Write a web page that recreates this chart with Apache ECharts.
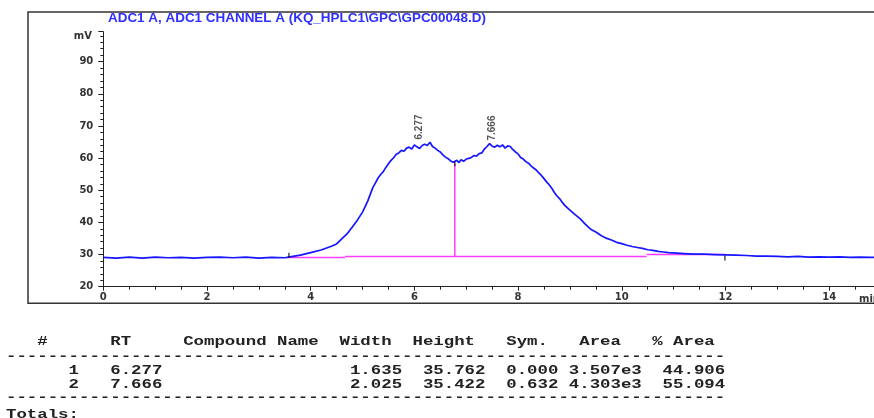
<!DOCTYPE html>
<html>
<head>
<meta charset="utf-8">
<script src="https://cdn.jsdelivr.net/npm/echarts@6/dist/echarts.min.js"></script>
<style>
html,body{margin:0;padding:0;background:#fff;}
#chart{width:874px;height:418px;}
</style>
</head>
<body>
<div id="chart"></div>
<script>
// detector trace, [min, mV]
const trace = [
  [0,29.1],[0.25,28.9],[0.5,29.2],[0.75,28.9],[1,29.2],[1.25,29.0],[1.5,29.1],[1.75,28.9],
  [2,29.1],[2.25,29.2],[2.5,29.0],[2.75,29.2],[3,28.9],[3.25,29.1],[3.5,29.0],[3.6,29.3],
  [3.8,29.8],[4,30.6],[4.2,31.4],[4.4,32.6],[4.5,33.3],[4.6,34.9],[4.7,36.4],[4.8,38.5],
  [4.9,40.7],[5,43.2],[5.1,46.6],[5.2,50.9],[5.25,52.3],[5.3,53.8],[5.35,54.9],[5.4,55.8],
  [5.45,57.1],[5.5,58.2],[5.55,59.3],[5.6,60.1],[5.65,61.2],[5.7,61.6],[5.75,62.4],[5.8,62.1],
  [5.85,63.1],[5.9,63.4],[5.95,62.8],[6,64.1],[6.05,63.5],[6.1,63.0],[6.15,63.9],[6.2,64.3],
  [6.25,63.9],[6.3,64.9],[6.35,63.6],[6.4,63.1],[6.45,62.4],[6.5,61.9],[6.55,61.0],[6.6,60.3],
  [6.65,59.8],[6.7,59.1],[6.75,58.7],[6.78,58.3],[6.82,59.3],[6.86,58.6],[6.9,59.5],[6.95,59.0],
  [7,59.7],[7.05,59.9],[7.1,60.2],[7.15,60.8],[7.2,60.6],[7.25,61.4],[7.3,61.6],[7.35,62.8],
  [7.4,63.6],[7.45,64.5],[7.5,63.7],[7.55,63.4],[7.6,64.0],[7.65,63.5],[7.7,64.1],[7.75,63.1],
  [7.8,63.8],[7.85,63.6],[7.9,62.6],[7.95,61.9],[8,61.3],[8.05,60.2],[8.1,59.7],[8.15,58.9],
  [8.2,58.4],[8.25,57.6],[8.3,56.9],[8.35,56.3],[8.4,55.4],[8.45,54.6],[8.5,53.6],[8.55,52.6],
  [8.6,51.7],[8.65,50.6],[8.7,49.3],[8.75,48.2],[8.8,47.4],[8.85,46.3],[8.9,45.3],[9,43.8],
  [9.1,42.4],[9.2,41.1],[9.3,39.4],[9.4,37.9],[9.5,37.0],[9.6,35.9],[9.7,35.1],[9.8,34.5],
  [9.9,33.8],[10,33.4],[10.1,32.9],[10.2,32.5],[10.3,32.2],[10.4,31.9],[10.5,31.5],[10.6,31.3],
  [10.7,31.0],[10.8,30.8],[10.9,30.6],[11,30.5],[11.2,30.3],[11.4,30.1],[11.6,30.1],[11.8,30.0],
  [12,29.9],[12.2,29.8],[12.4,29.7],[12.6,29.5],[12.8,29.5],[13,29.4],[13.2,29.3],[13.4,29.4],
  [13.6,29.2],[13.8,29.3],[14,29.2],[14.2,29.3],[14.4,29.1],[14.6,29.2],[14.8,29.1],[15,29.2]
];

// integration baseline segments
const baseStart = [3.55, 4.66, 10.48];
const baseEnd   = [4.66, 10.48, 11.99];
const baseLevel = [29.1, 29.4, 30.0];

// peak split (drop line) and integration event marks
const dropTime = 6.78;
const dropTop = 58.3;
const eventTime = [3.58, 6.78, 11.99];
const eventLevel = [29.8, 58.2, 28.9];

// peak table
const peakNo = [1, 2];
const peakRT = [6.277, 7.666];
const peakWidth = [1.635, 2.025];
const peakHeight = [35.762, 35.422];
const peakSym = [0.000, 0.632];
const peakArea = [3507, 4303];
const peakPct = [44.906, 55.094];
const tableHeader = '   #      RT     Compound Name  Width  Height   Sym.   Area   % Area';

const chartTitle = 'ADC1 A, ADC1 CHANNEL A (KQ_HPLC1\\GPC\\GPC00048.D)';
const xTicks = [0, 2, 4, 6, 8, 10, 12, 14];
const yTicks = [20, 30, 40, 50, 60, 70, 80, 90];

const blue = '#1616ff';
const magenta = '#ff3cff';
const ink = '#222';

function fmtRow(i) {
  return ' '.repeat(6) + peakNo[i] + '   ' + peakRT[i].toFixed(3) + ' '.repeat(18) +
    peakWidth[i].toFixed(3) + '  ' + peakHeight[i].toFixed(3) + '  ' +
    peakSym[i].toFixed(3) + ' ' + peakArea[i].toExponential(3).replace('e+', 'e') +
    '  ' + peakPct[i].toFixed(3);
}

function monoLine(text, y) {
  return {
    type: 'text', x: 6, y: y, scaleX: 1.336, silent: true,
    style: {
      text: text, fontFamily: 'Liberation Mono', fontSize: 13, fontWeight: 'bold',
      fill: ink, verticalAlign: 'middle'
    }
  };
}

const chart = echarts.init(document.getElementById('chart'));

const baseSeries = baseStart.map((s, i) => ({
  type: 'line', symbol: 'none', silent: true,
  data: [[s, baseLevel[i]], [baseEnd[i], baseLevel[i]]],
  lineStyle: {color: magenta, width: 1.5}, z: 3
}));

const option = {
  animation: false,
  backgroundColor: '#fff',
  grid: {left: 103.3, right: -7, top: 31.7, bottom: 131.3, outerBoundsMode: 'none'},
  xAxis: {
    type: 'value', min: 0, max: 15, interval: 2,
    axisLine: {lineStyle: {color: ink, width: 1}},
    axisTick: {length: 4, lineStyle: {color: ink}},
    minorTick: {show: true, splitNumber: 4, length: 3, lineStyle: {color: ink}},
    splitLine: {show: false},
    axisLabel: {
      margin: 6, color: '#333', fontFamily: 'DejaVu Sans', fontWeight: 'bold', fontSize: 10,
      formatter: v => xTicks.indexOf(v) >= 0 ? String(v) : ''
    }
  },
  yAxis: {
    type: 'value', min: 20, max: 99.3, interval: 10,
    axisLine: {show: true, lineStyle: {color: ink, width: 1}},
    axisTick: {show: true, length: 5, lineStyle: {color: ink}},
    minorTick: {show: true, splitNumber: 5, length: 3, lineStyle: {color: ink}},
    splitLine: {show: false},
    axisLabel: {
      margin: 10, color: '#333', fontFamily: 'DejaVu Sans', fontWeight: 'bold', fontSize: 10,
      formatter: v => yTicks.indexOf(v) >= 0 ? String(v) : ''
    }
  },
  series: [
    {
      type: 'line', name: 'signal', symbol: 'none', silent: true,
      data: trace,
      lineStyle: {color: blue, width: 1.7}, z: 4
    },
    ...baseSeries,
    {
      type: 'line', symbol: 'none', silent: true,
      data: [[dropTime, baseLevel[1]], [dropTime, dropTop]],
      lineStyle: {color: magenta, width: 1.5}, z: 3
    },
    {
      type: 'scatter', silent: true, symbol: 'rect', symbolSize: [1.3, 5],
      data: eventTime.map((t, i) => [t, eventLevel[i]]),
      itemStyle: {color: '#000'}, z: 5
    },
    {
      type: 'scatter', silent: true, symbolSize: 0,
      data: peakRT.map((t, i) => [t, baseLevel[1] + peakHeight[i]]),
      label: {
        show: true, position: [-9, -2], rotate: 90, align: 'left', verticalAlign: 'middle',
        fontFamily: 'Liberation Sans', fontSize: 10, fontWeight: 'bold', color: '#2a2a2a',
        formatter: p => peakRT[p.dataIndex].toFixed(3)
      },
      z: 6
    }
  ],
  graphic: [
    {
      type: 'rect', silent: true, z: 0,
      shape: {x: 28, y: 12, width: 880, height: 291.3},
      style: {fill: 'none', stroke: '#333', lineWidth: 1.5}
    },
    {
      type: 'text', x: 108, y: 18.5, scaleX: 1.12, silent: true,
      style: {text: chartTitle, fontFamily: 'Liberation Sans', fontSize: 12, fontWeight: 'bold',
        fill: '#2f2fff', verticalAlign: 'middle'}
    },
    {
      type: 'text', x: 92, y: 36, silent: true,
      style: {text: 'mV', fontFamily: 'DejaVu Sans', fontSize: 10, fontWeight: 'bold',
        fill: '#333', align: 'right', verticalAlign: 'middle'}
    },
    {
      type: 'text', x: 859, y: 299, silent: true,
      style: {text: 'min', fontFamily: 'DejaVu Sans', fontSize: 10, fontWeight: 'bold',
        fill: '#333', verticalAlign: 'middle'}
    },
    monoLine(tableHeader, 342),
    monoLine('-'.repeat(69), 357),
    monoLine(fmtRow(0), 370.5),
    monoLine(fmtRow(1), 385),
    monoLine('-'.repeat(69), 398),
    monoLine('Totals:', 414.5)
  ]
};

chart.setOption(option);
</script>
</body>
</html>
